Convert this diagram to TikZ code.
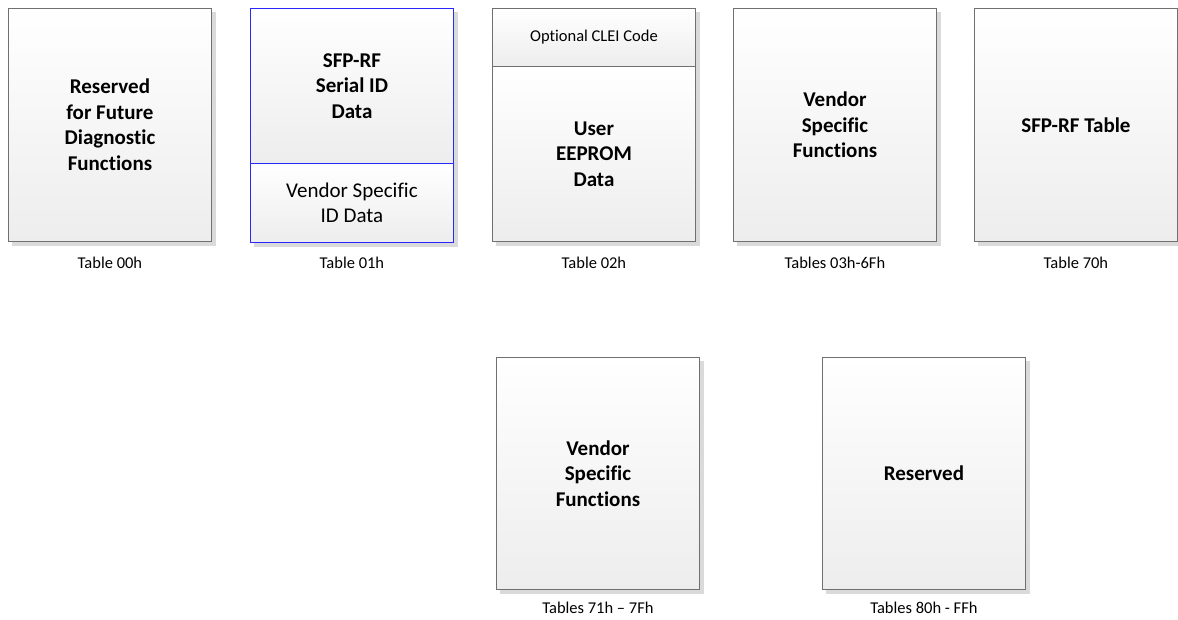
\documentclass[tikz,border=0pt]{standalone}
\usepackage{fontspec}
\setmainfont{Carlito}[Ligatures=NoCommon]
\usetikzlibrary{backgrounds}
\definecolor{boxgray}{RGB}{112,112,112}
\definecolor{boxblue}{RGB}{40,40,250}
\definecolor{shadebot}{RGB}{237,237,237}
\definecolor{shadowcol}{RGB}{218,218,218}
\begin{document}
\begin{tikzpicture}[x=1pt,y=-1pt,
  tbox/.style={draw=boxgray, line width=0.9pt, top color=white, bottom color=shadebot,
    inner sep=0pt, align=center, anchor=north west, minimum width=203pt,
    font=\fontsize{21}{25.5}\selectfont\bfseries},
  bluebox/.style={tbox, draw=boxblue},
  regtext/.style={font=\fontsize{21}{25}\selectfont},
  smalltext/.style={font=\fontsize{16.5}{20}\selectfont},
  lbl/.style={font=\fontsize{16.5}{20}\selectfont, inner sep=0pt},
  shadowfill/.style={fill=shadowcol}]
\clip (0,0) rectangle (1178,620);

% Row 1
\node[tbox, minimum height=233pt] (t00) at (8,8) {Reserved\\for Future\\Diagnostic\\Functions};

\node[bluebox, minimum height=155pt] (t01a) at (250,8) {SFP-RF\\Serial ID\\Data};
\node[bluebox, minimum height=79pt, regtext] (t01b) at (250,163) {Vendor Specific\\ID Data};

\node[tbox, minimum height=58pt, smalltext] (t02a) at (492,8) {Optional CLEI Code};
\node[tbox, minimum height=175pt] (t02b) at (492,66) {User\\EEPROM\\Data};

\node[tbox, minimum height=233pt] (t03) at (733,8) {Vendor\\Specific\\Functions};

\node[tbox, minimum height=233pt] (t70) at (974,8) {SFP-RF Table};

% Row 2
\node[tbox, minimum height=232pt] (t71) at (496,357) {Vendor\\Specific\\Functions};
\node[tbox, minimum height=232pt] (t80) at (822,357) {Reserved};

% Shadows
\begin{scope}[on background layer]
  \fill[white] (0,0) rectangle (1178,620);
  \fill[shadowfill] ([shift={(4,4)}]t00.north west) rectangle ([shift={(4,4)}]t00.south east);
  \fill[shadowfill] ([shift={(4,4)}]t01a.north west) rectangle ([shift={(4,4)}]t01b.south east);
  \fill[shadowfill] ([shift={(4,4)}]t02a.north west) rectangle ([shift={(4,4)}]t02b.south east);
  \fill[shadowfill] ([shift={(4,4)}]t03.north west) rectangle ([shift={(4,4)}]t03.south east);
  \fill[shadowfill] ([shift={(4,4)}]t70.north west) rectangle ([shift={(4,4)}]t70.south east);
  \fill[shadowfill] ([shift={(4,4)}]t71.north west) rectangle ([shift={(4,4)}]t71.south east);
  \fill[shadowfill] ([shift={(4,4)}]t80.north west) rectangle ([shift={(4,4)}]t80.south east);
\end{scope}

% Labels
\node[lbl] (l00) at (t00.south |- 0,263) {Table 00h};
\node[lbl] (l01) at (t01b.south |- 0,263) {Table 01h};
\node[lbl] (l02) at (t02b.south |- 0,263) {Table 02h};
\node[lbl] (l03) at (t03.south |- 0,263) {Tables 03h-6Fh};
\node[lbl] (l70) at (t70.south |- 0,263) {Table 70h};
\node[lbl] (l71) at (t71.south |- 0,608) {Tables 71h – 7Fh};
\node[lbl] (l80) at (t80.south |- 0,608) {Tables 80h - FFh};
\end{tikzpicture}
\end{document}
